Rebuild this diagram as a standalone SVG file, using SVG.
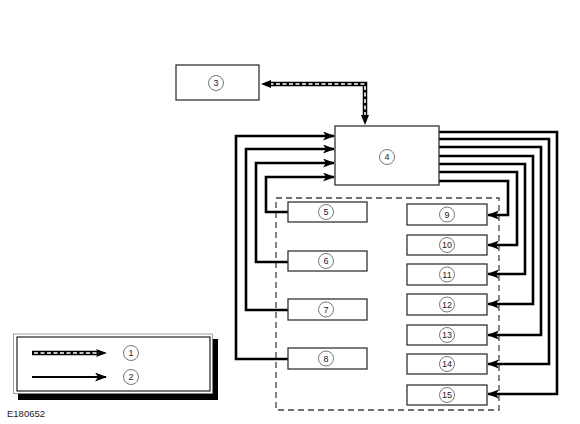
<svg xmlns="http://www.w3.org/2000/svg" width="580" height="424" viewBox="0 0 580 424">
<defs>
<marker id="ah" viewBox="0 0 12 9" refX="11" refY="4.5" markerWidth="12" markerHeight="9" markerUnits="userSpaceOnUse" orient="auto-start-reverse">
<path d="M0,0 L12,4.5 L0,9 L3,4.5 z" fill="#000"/>
</marker>
</defs>
<style>
.box{fill:#fff;stroke:#333;stroke-width:1.3}
.c{fill:#fff;stroke:#555;stroke-width:0.8}
.t{font-family:"Liberation Sans",Arial,sans-serif;font-size:9px;fill:#222;text-anchor:middle}
.w{fill:none;stroke:#000;stroke-width:2.6}
.db{fill:none;stroke:#000;stroke-width:4.5}
.dw{fill:none;stroke:#fff;stroke-width:1.6;stroke-dasharray:4 2.5}
</style>
<rect width="580" height="424" fill="#fff"/>

<g id="frame">
<rect x="276" y="198" width="223" height="212" fill="none" stroke="#444" stroke-width="1.3" stroke-dasharray="6 4"/>
</g>

<g id="connectors">
<path class="db" d="M365,118 L365,84 L269,84"/>
<path class="dw" d="M365,116 L365,84 L271,84"/>
<path d="M361,115 L365,125 L369,115 z" fill="#000"/>
<path d="M271,80 L261,84 L271,88 z" fill="#000"/>

<path class="w" d="M288,359 L236,359 L236,136 L334,136" marker-end="url(#ah)"/>
<path class="w" d="M288,310 L246,310 L246,149 L334,149" marker-end="url(#ah)"/>
<path class="w" d="M288,262 L256,262 L256,163 L334,163" marker-end="url(#ah)"/>
<path class="w" d="M288,212 L266,212 L266,177 L334,177" marker-end="url(#ah)"/>

<path class="w" d="M439,181 L508,181 L508,215 L488,215" marker-end="url(#ah)"/>
<path class="w" d="M439,172 L517,172 L517,245 L488,245" marker-end="url(#ah)"/>
<path class="w" d="M439,164 L525,164 L525,274 L488,274" marker-end="url(#ah)"/>
<path class="w" d="M439,156 L533,156 L533,304 L488,304" marker-end="url(#ah)"/>
<path class="w" d="M439,147 L541,147 L541,335 L488,335" marker-end="url(#ah)"/>
<path class="w" d="M439,139 L549,139 L549,364 L488,364" marker-end="url(#ah)"/>
<path class="w" d="M439,132 L557,132 L557,394 L488,394" marker-end="url(#ah)"/>
</g>

<g id="n3"><rect class="box" x="176" y="65" width="83" height="35"/><circle class="c" cx="216" cy="83" r="7.5"/><text class="t" x="216" y="86.2">3</text></g>
<g id="n4"><rect class="box" x="335" y="126" width="104" height="59"/><circle class="c" cx="387" cy="157" r="7.5"/><text class="t" x="387" y="160.2">4</text></g>
<g id="n5"><rect class="box" x="288" y="202" width="79" height="20"/><circle class="c" cx="326" cy="212" r="7.5"/><text class="t" x="326" y="215.2">5</text></g>
<g id="n6"><rect class="box" x="288" y="251" width="79" height="20"/><circle class="c" cx="326" cy="261" r="7.5"/><text class="t" x="326" y="264.2">6</text></g>
<g id="n7"><rect class="box" x="288" y="299" width="79" height="21"/><circle class="c" cx="326" cy="309.5" r="7.5"/><text class="t" x="326" y="312.7">7</text></g>
<g id="n8"><rect class="box" x="288" y="348" width="79" height="21"/><circle class="c" cx="326" cy="358.5" r="7.5"/><text class="t" x="326" y="361.7">8</text></g>
<g id="n9"><rect class="box" x="407" y="204" width="80" height="21"/><circle class="c" cx="447" cy="214.5" r="7.5"/><text class="t" x="447" y="217.7">9</text></g>
<g id="n10"><rect class="box" x="407" y="235" width="80" height="20"/><circle class="c" cx="447" cy="245" r="7.5"/><text class="t" x="447" y="248.2">10</text></g>
<g id="n11"><rect class="box" x="407" y="264" width="80" height="21"/><circle class="c" cx="447" cy="274.5" r="7.5"/><text class="t" x="447" y="277.7">11</text></g>
<g id="n12"><rect class="box" x="407" y="294" width="80" height="21"/><circle class="c" cx="447" cy="304.5" r="7.5"/><text class="t" x="447" y="307.7">12</text></g>
<g id="n13"><rect class="box" x="407" y="325" width="80" height="20"/><circle class="c" cx="447" cy="335" r="7.5"/><text class="t" x="447" y="338.2">13</text></g>
<g id="n14"><rect class="box" x="407" y="354" width="80" height="20"/><circle class="c" cx="447" cy="364" r="7.5"/><text class="t" x="447" y="367.2">14</text></g>
<g id="n15"><rect class="box" x="407" y="385" width="80" height="20"/><circle class="c" cx="447" cy="395" r="7.5"/><text class="t" x="447" y="398.2">15</text></g>

<g id="legend">
<rect x="18" y="339" width="200" height="61" fill="#000"/>
<rect x="13.5" y="334" width="199" height="59.5" fill="#fff" stroke="#888" stroke-width="0.8"/>
<rect x="17" y="337" width="193" height="54" fill="none" stroke="#222" stroke-width="1.2"/>
<path class="db" d="M32,353 L98,353"/>
<path class="dw" d="M34,353 L98,353"/>
<path d="M96,349 L107,353 L96,357 L98.5,353 z" fill="#000"/>
<path d="M32,377 L106,377" fill="none" stroke="#000" stroke-width="2" marker-end="url(#ah)"/>
<circle class="c" cx="131" cy="353" r="7.5"/><text class="t" x="131" y="356.2">1</text>
<circle class="c" cx="131" cy="377" r="7.5"/><text class="t" x="131" y="380.2">2</text>
</g>

<text x="7" y="417" font-family="Liberation Sans,Arial,sans-serif" font-size="9.5" fill="#222">E180652</text>
</svg>
